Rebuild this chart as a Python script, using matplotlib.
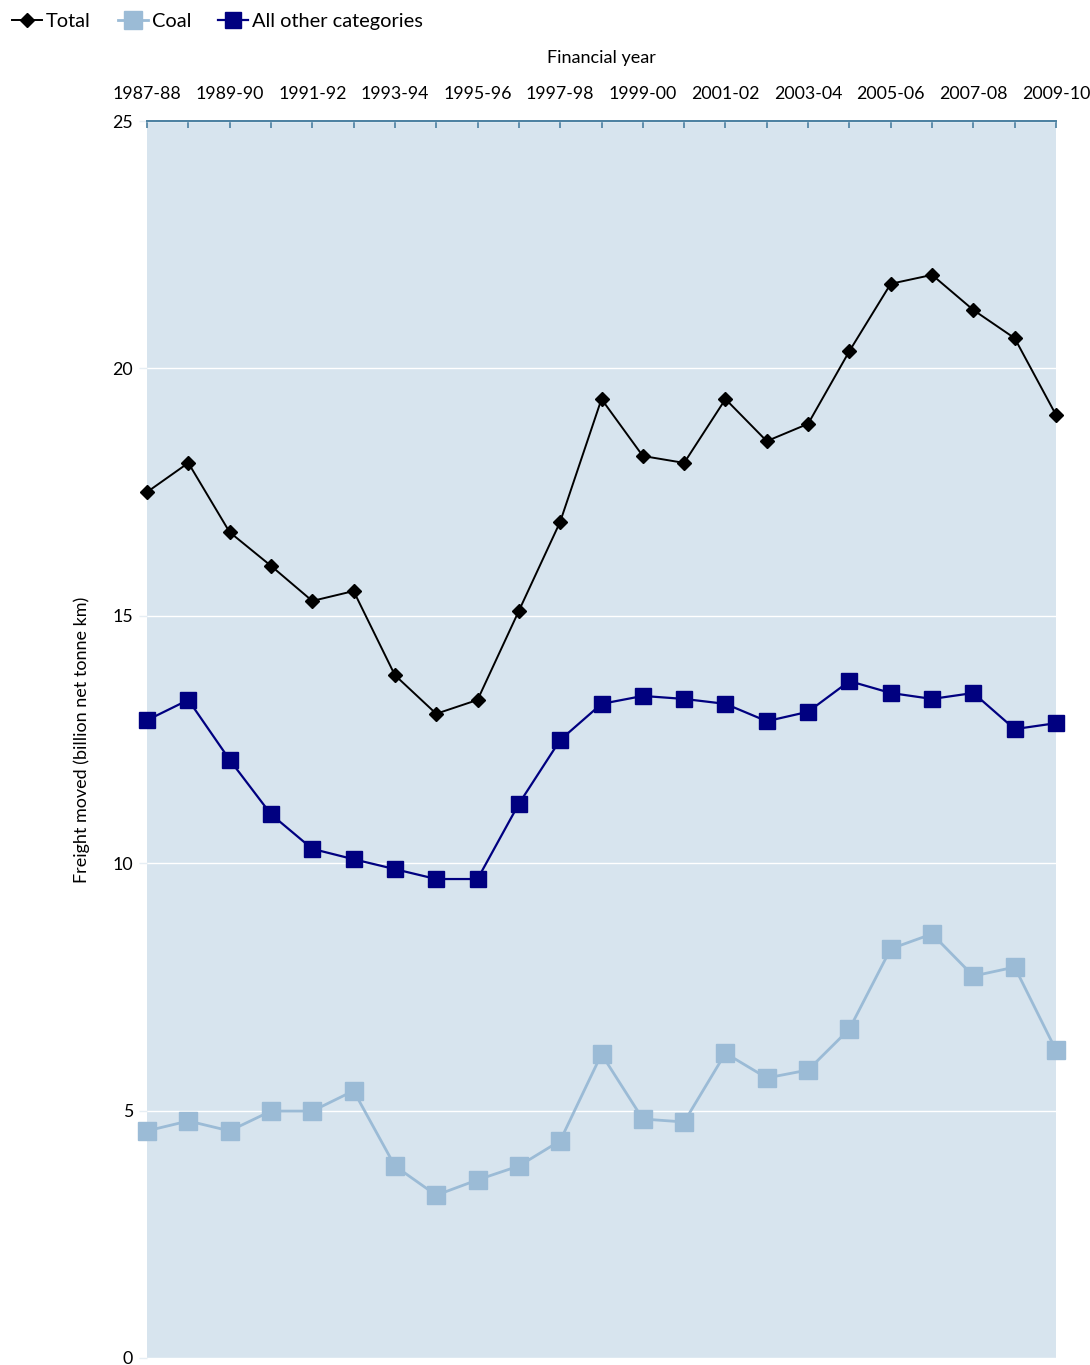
import matplotlib
matplotlib.use("Agg")
import matplotlib.pyplot as plt
from matplotlib.lines import Line2D

plt.rcParams['font.family'] = ['Lato', 'DejaVu Sans']

years = ["1987-88", "1988-89", "1989-90", "1990-91", "1991-92", "1992-93",
         "1993-94", "1994-95", "1995-96", "1996-97", "1997-98", "1998-99",
         "1999-00", "2000-01", "2001-02", "2002-03", "2003-04", "2004-05",
         "2005-06", "2006-07", "2007-08", "2008-09", "2009-10"]

total = [17.50, 18.09, 16.69, 16.01, 15.30, 15.50, 13.80, 13.02, 13.30, 15.10,
         16.90, 19.38, 18.23, 18.09, 19.38, 18.53, 18.88, 20.35, 21.71, 21.89,
         21.18, 20.61, 19.06]
coal = [4.59, 4.79, 4.59, 4.99, 4.99, 5.40, 3.88, 3.29, 3.60, 3.88,
        4.39, 6.14, 4.83, 4.77, 6.16, 5.66, 5.82, 6.65, 8.27, 8.57,
        7.72, 7.90, 6.22]
other = [12.89, 13.30, 12.09, 10.99, 10.29, 10.08, 9.88, 9.68, 9.68, 11.20,
         12.49, 13.22, 13.38, 13.32, 13.22, 12.87, 13.06, 13.68, 13.44, 13.32,
         13.44, 12.71, 12.83]

COAL = "#9bbbd6"
NAVY = "#000080"
BG = "#d7e4ee"
AXIS = "#4a7fa0"

W, H = 1090, 1365
fig = plt.figure(figsize=(W / 100, H / 100), dpi=100)
ax = fig.add_axes([147 / W, 1 - 1358 / H, (1056 - 147) / W, (1358 - 121) / H])
ax.set_facecolor(BG)

x = list(range(len(years)))
ax.plot(x, coal, color=COAL, lw=2.0, marker='s', ms=13, mec=COAL, mfc=COAL,
        label="Coal", zorder=3, clip_on=False)
ax.plot(x, other, color=NAVY, lw=1.6, marker='s', ms=12, mec=NAVY, mfc=NAVY,
        label="All other categories", zorder=4, clip_on=False)
ax.plot(x, total, color="black", lw=1.4, marker='D', ms=7.5, mec="black",
        mfc="black", label="Total", zorder=5, clip_on=False)

ax.set_xlim(0, len(years) - 1)
ax.set_ylim(0, 25)
ax.set_yticks([0, 5, 10, 15, 20, 25])
ax.yaxis.grid(True, color="white", lw=1.0)
ax.set_axisbelow(True)

ax.xaxis.tick_top()
ax.xaxis.set_label_position('top')
ax.set_xticks(x)
ax.set_xticklabels([y if i % 2 == 0 else "" for i, y in enumerate(years)])
ax.tick_params(axis='x', direction='in', length=5, color=AXIS, width=1.2,
               labelsize=12.8, pad=14)
ax.tick_params(axis='y', length=6, color="#e6eef4", width=1.0, labelsize=12.8, pad=4)
ax.set_xlabel("Financial year", fontsize=13, labelpad=16)
ax.set_ylabel("Freight moved (billion net tonne km)", fontsize=13, labelpad=16)

for s in ("left", "right", "bottom"):
    ax.spines[s].set_visible(False)
ax.spines["top"].set_color(AXIS)
ax.spines["top"].set_linewidth(1.4)

handles = [
    Line2D([], [], color="black", lw=1.4, marker='D', ms=7.5, mfc="black", mec="black"),
    Line2D([], [], color=COAL, lw=2.0, marker='s', ms=13, mfc=COAL, mec=COAL),
    Line2D([], [], color=NAVY, lw=1.6, marker='s', ms=12, mfc=NAVY, mec=NAVY),
]
fig.legend(handles, ["Total", "Coal", "All other categories"], loc="upper left",
           bbox_to_anchor=(-0.0055, 1.004), ncol=3, frameon=False, fontsize=14.4,
           handlelength=1.5, handletextpad=0.2, columnspacing=1.35,
           markerfirst=True)

fig.savefig("out.png", dpi=100)
